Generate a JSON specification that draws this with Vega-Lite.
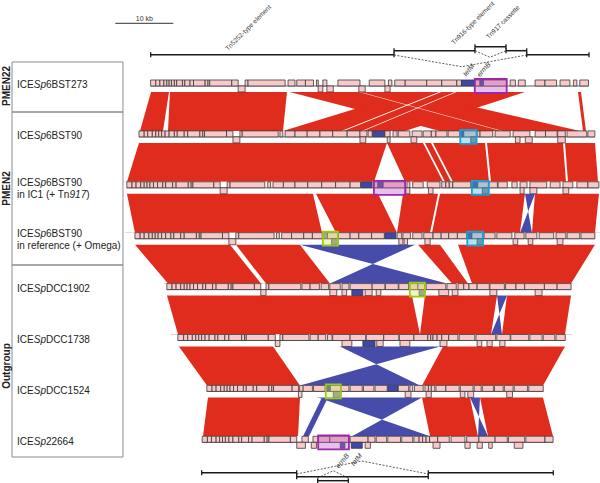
{
"$schema":"https://vega.github.io/schema/vega-lite/v6.json",
"width":600,"height":483,"autosize":{"type":"none"},"padding":0,"background":"white",
"config":{"view":{"stroke":null},"font":"Liberation Sans"},
"datasets":{
"tracks":[{"t":1,"a":0.1,"b":75.6},{"t":2,"a":-1.9,"b":76.7},{"t":3,"a":-4.0,"b":77.4},{"t":4,"a":-2.6,"b":76.7},{"t":5,"a":2.9,"b":72.6},{"t":6,"a":4.8,"b":71.6},{"t":7,"a":9.8,"b":67.8},{"t":8,"a":9.0,"b":69.5}],
"mask":[{"t":1,"a":-4.5,"b":77.6},{"t":2,"a":-4.5,"b":77.6},{"t":3,"a":-4.5,"b":77.6},{"t":4,"a":-4.5,"b":77.6},{"t":5,"a":-4.5,"b":77.6},{"t":6,"a":-4.5,"b":77.6},{"t":7,"a":-4.5,"b":77.6},{"t":8,"a":-4.5,"b":77.6}],
"bands":[
{"id":"b12a","t":1,"a":0.76,"b":3.60,"k":"d"},{"id":"b12a","t":2,"a":-1.72,"b":2.24,"k":"d"},
{"id":"b12b","t":1,"a":3.55,"b":23.83,"k":"d"},{"id":"b12b","t":2,"a":3.10,"b":22.93,"k":"d"},
{"id":"b12c","t":1,"a":16.14,"b":35.78,"k":"d"},{"id":"b12c","t":2,"a":50.00,"b":74.14,"k":"d"},
{"id":"b12d","t":1,"a":51.59,"b":71.05,"k":"d"},{"id":"b12d","t":2,"a":22.93,"b":43.97,"k":"d"},
{"id":"b12e","t":1,"a":73.53,"b":74.05,"k":"d"},{"id":"b12e","t":2,"a":74.66,"b":75.17,"k":"d"},
{"id":"g12a","t":1,"a":55.0,"b":55.4,"k":"g"},{"id":"g12a","t":2,"a":33.0,"b":33.4,"k":"g"},
{"id":"g12b","t":1,"a":57.5,"b":57.8,"k":"g"},{"id":"g12b","t":2,"a":36.5,"b":36.8,"k":"g"},
{"id":"g12c","t":1,"a":28.5,"b":28.8,"k":"g"},{"id":"g12c","t":2,"a":60.5,"b":60.8,"k":"g"},
{"id":"b23a","t":2,"a":-1.26,"b":41.55,"k":"d"},{"id":"b23a","t":3,"a":-3.97,"b":38.62,"k":"d"},
{"id":"b23b","t":2,"a":39.90,"b":76.57,"k":"d"},{"id":"b23b","t":3,"a":43.97,"b":77.24,"k":"d"},
{"id":"g23a","t":2,"a":46.00,"b":46.34,"k":"g"},{"id":"g23a","t":3,"a":50.52,"b":50.86,"k":"g"},
{"id":"g23b","t":2,"a":47.38,"b":47.72,"k":"g"},{"id":"g23b","t":3,"a":51.90,"b":52.24,"k":"g"},
{"id":"g23c","t":2,"a":57.55,"b":57.90,"k":"g"},{"id":"g23c","t":3,"a":58.45,"b":58.79,"k":"g"},
{"id":"g23d","t":2,"a":71.05,"b":71.40,"k":"g"},{"id":"g23d","t":3,"a":71.72,"b":72.07,"k":"g"},
{"id":"b34a","t":3,"a":-4.40,"b":27.62,"k":"d"},{"id":"b34a","t":4,"a":-2.59,"b":29.66,"k":"d"},
{"id":"b34b","t":3,"a":27.55,"b":38.29,"k":"d"},{"id":"b34b","t":4,"a":32.07,"b":42.59,"k":"d"},
{"id":"b34c","t":3,"a":43.95,"b":64.91,"k":"d"},{"id":"b34c","t":4,"a":42.59,"b":63.79,"k":"d"},
{"id":"b34d","t":3,"a":64.28,"b":67.17,"k":"i"},{"id":"b34d","t":4,"a":65.86,"b":63.79,"k":"i"},
{"id":"b34e","t":3,"a":66.53,"b":77.62,"k":"d"},{"id":"b34e","t":4,"a":65.86,"b":76.72,"k":"d"},
{"id":"g34a","t":3,"a":50.09,"b":50.43,"k":"g"},{"id":"g34a","t":4,"a":48.28,"b":48.62,"k":"g"},
{"id":"b45a","t":4,"a":-4.34,"b":12.14,"k":"d"},{"id":"b45a","t":5,"a":3.10,"b":19.14,"k":"d"},
{"id":"b45b","t":4,"a":13.22,"b":24.26,"k":"d"},{"id":"b45b","t":5,"a":20.00,"b":31.03,"k":"d"},
{"id":"b45c","t":4,"a":18.03,"b":50.22,"k":"i"},{"id":"b45c","t":5,"a":51.21,"b":31.03,"k":"i"},
{"id":"b45d","t":4,"a":44.40,"b":48.50,"k":"d"},{"id":"b45d","t":5,"a":52.07,"b":54.83,"k":"d"},
{"id":"b45e","t":4,"a":52.36,"b":78.00,"k":"d"},{"id":"b45e","t":5,"a":55.52,"b":72.59,"k":"d"},
{"id":"b56a","t":5,"a":2.34,"b":44.74,"k":"d"},{"id":"b56a","t":6,"a":4.83,"b":46.55,"k":"d"},
{"id":"b56b","t":5,"a":47.67,"b":60.16,"k":"d"},{"id":"b56b","t":6,"a":46.55,"b":58.79,"k":"d"},
{"id":"b56c","t":5,"a":59.57,"b":62.40,"k":"i"},{"id":"b56c","t":6,"a":60.69,"b":58.79,"k":"i"},
{"id":"b56d","t":5,"a":61.81,"b":72.91,"k":"d"},{"id":"b56d","t":6,"a":60.69,"b":71.55,"k":"d"},
{"id":"b67a","t":6,"a":3.50,"b":19.78,"k":"d"},{"id":"b67a","t":7,"a":9.83,"b":25.86,"k":"d"},
{"id":"b67b","t":6,"a":28.50,"b":57.47,"k":"i"},{"id":"b67b","t":7,"a":46.55,"b":25.86,"k":"i"},
{"id":"b67c","t":6,"a":51.64,"b":72.72,"k":"d"},{"id":"b67c","t":7,"a":46.90,"b":67.76,"k":"d"},
{"id":"b78a","t":7,"a":10.26,"b":25.97,"k":"d"},{"id":"b78a","t":8,"a":9.14,"b":25.52,"k":"d"},
{"id":"b78b","t":7,"a":23.00,"b":50.62,"k":"i"},{"id":"b78b","t":8,"a":48.28,"b":34.83,"k":"i"},
{"id":"b78c","t":7,"a":30.67,"b":31.71,"k":"i"},{"id":"b78c","t":8,"a":26.38,"b":27.41,"k":"i"},
{"id":"b78d","t":7,"a":46.47,"b":54.74,"k":"d"},{"id":"b78d","t":8,"a":48.28,"b":56.55,"k":"d"},
{"id":"b78e","t":7,"a":54.21,"b":57.00,"k":"i"},{"id":"b78e","t":8,"a":58.28,"b":56.55,"k":"i"},
{"id":"b78f","t":7,"a":56.47,"b":67.22,"k":"d"},{"id":"b78f","t":8,"a":58.28,"b":69.48,"k":"d"}
],
"gu":[
{"t":1,"a":0.1,"b":1.0},{"t":1,"a":1.0,"b":1.7},{"t":1,"a":1.7,"b":2.4},{"t":1,"a":2.4,"b":2.9},{"t":1,"a":2.9,"b":3.3},{"t":1,"a":3.3,"b":3.7},{"t":1,"a":3.7,"b":4.2},{"t":1,"a":4.2,"b":4.6},{"t":1,"a":4.6,"b":5.6},{"t":1,"a":5.6,"b":6.0},{"t":1,"a":6.0,"b":6.9},{"t":1,"a":6.9,"b":7.5},{"t":1,"a":7.5,"b":9.5},{"t":1,"a":9.5,"b":10.0},{"t":1,"a":10.0,"b":10.3},{"t":1,"a":10.3,"b":14.1},{"t":1,"a":14.1,"b":15.2},{"t":1,"a":16.4,"b":16.9},{"t":1,"a":16.9,"b":23.3},{"t":1,"a":23.8,"b":25.0},{"t":1,"a":25.3,"b":26.8},{"t":1,"a":26.8,"b":28.2},{"t":1,"a":28.7,"b":29.0},{"t":1,"a":29.8,"b":30.5},{"t":1,"a":32.4,"b":36.2},{"t":1,"a":37.8,"b":40.5},{"t":1,"a":41.1,"b":41.7},{"t":1,"a":42.2,"b":44.0},{"t":1,"a":44.0,"b":47.7},{"t":1,"a":47.7,"b":50.3},{"t":1,"a":50.3,"b":52.9},{"t":1,"a":52.9,"b":53.7},{"t":1,"a":53.7,"b":56.0,"k":"t"},{"t":1,"a":56.0,"b":56.9},{"t":1,"a":56.9,"b":57.5,"k":"e"},{"t":1,"a":57.5,"b":61.5},{"t":1,"a":62.1,"b":63.0},{"t":1,"a":63.5,"b":64.7},{"t":1,"a":66.4,"b":68.1},{"t":1,"a":68.1,"b":70.1},{"t":1,"a":70.7,"b":72.4},{"t":1,"a":73.0,"b":73.6},{"t":1,"a":74.1,"b":75.6},
{"t":2,"a":-1.9,"b":-1.0},{"t":2,"a":-1.0,"b":-0.4},{"t":2,"a":-0.4,"b":0.4},{"t":2,"a":0.4,"b":1.0},{"t":2,"a":1.0,"b":1.5},{"t":2,"a":1.5,"b":2.0},{"t":2,"a":2.0,"b":2.6},{"t":2,"a":2.6,"b":3.3},{"t":2,"a":3.3,"b":4.2},{"t":2,"a":4.2,"b":4.7},{"t":2,"a":4.7,"b":5.9},{"t":2,"a":5.9,"b":6.5},{"t":2,"a":6.5,"b":8.6},{"t":2,"a":8.6,"b":9.1},{"t":2,"a":9.1,"b":9.4},{"t":2,"a":9.4,"b":13.2},{"t":2,"a":13.2,"b":14.3},{"t":2,"a":15.5,"b":15.9},{"t":2,"a":15.9,"b":22.1},{"t":2,"a":22.4,"b":22.9},{"t":2,"a":23.3,"b":25.0},{"t":2,"a":25.0,"b":27.1},{"t":2,"a":27.1,"b":29.3},{"t":2,"a":29.3,"b":31.5},{"t":2,"a":31.5,"b":34.0},{"t":2,"a":34.0,"b":36.2},{"t":2,"a":36.2,"b":37.4},{"t":2,"a":37.6,"b":38.3},{"t":2,"a":38.4,"b":40.5,"k":"t"},{"t":2,"a":40.5,"b":41.4},{"t":2,"a":41.9,"b":42.6},{"t":2,"a":42.8,"b":44.8},{"t":2,"a":45.2,"b":46.9},{"t":2,"a":47.1,"b":48.5},{"t":2,"a":48.5,"b":49.3},{"t":2,"a":49.3,"b":51.2},{"t":2,"a":51.4,"b":53.4},{"t":2,"a":53.5,"b":54.1,"k":"t"},{"t":2,"a":54.1,"b":56.3},{"t":2,"a":56.4,"b":56.9},{"t":2,"a":56.9,"b":59.1},{"t":2,"a":59.5,"b":62.1},{"t":2,"a":62.6,"b":65.5},{"t":2,"a":66.4,"b":68.2},{"t":2,"a":68.2,"b":70.2},{"t":2,"a":70.3,"b":71.6},{"t":2,"a":71.9,"b":75.3},{"t":2,"a":75.5,"b":76.7},
{"t":3,"a":-4.0,"b":-3.1},{"t":3,"a":-3.1,"b":-2.4},{"t":3,"a":-2.4,"b":-1.6},{"t":3,"a":-1.6,"b":-1.0},{"t":3,"a":-1.0,"b":-0.5},{"t":3,"a":-0.5,"b":0.0},{"t":3,"a":0.0,"b":0.6},{"t":3,"a":0.6,"b":1.3},{"t":3,"a":1.3,"b":2.2},{"t":3,"a":2.2,"b":2.7},{"t":3,"a":2.7,"b":3.9},{"t":3,"a":3.9,"b":4.5},{"t":3,"a":4.5,"b":6.6},{"t":3,"a":6.6,"b":7.1},{"t":3,"a":7.1,"b":7.4},{"t":3,"a":7.4,"b":11.0},{"t":3,"a":11.0,"b":12.1},{"t":3,"a":13.3,"b":13.8},{"t":3,"a":13.8,"b":19.8},{"t":3,"a":20.3,"b":20.8},{"t":3,"a":21.2,"b":23.0},{"t":3,"a":23.0,"b":25.0},{"t":3,"a":25.0,"b":27.2},{"t":3,"a":27.2,"b":29.6},{"t":3,"a":29.6,"b":32.0},{"t":3,"a":32.0,"b":34.5},{"t":3,"a":34.5,"b":36.3},{"t":3,"a":36.4,"b":38.3,"k":"t"},{"t":3,"a":38.6,"b":39.3},{"t":3,"a":39.3,"b":40.2,"k":"e"},{"t":3,"a":40.2,"b":44.0},{"t":3,"a":44.3,"b":44.8},{"t":3,"a":45.3,"b":47.1},{"t":3,"a":47.8,"b":50.0},{"t":3,"a":50.3,"b":51.0},{"t":3,"a":51.0,"b":51.6},{"t":3,"a":51.6,"b":52.2},{"t":3,"a":52.2,"b":55.3},{"t":3,"a":55.6,"b":56.5,"k":"t"},{"t":3,"a":56.5,"b":58.4},{"t":3,"a":58.4,"b":59.9},{"t":3,"a":60.0,"b":61.6},{"t":3,"a":62.4,"b":63.3},{"t":3,"a":63.8,"b":65.0},{"t":3,"a":65.5,"b":68.4},{"t":3,"a":69.0,"b":70.7},{"t":3,"a":71.2,"b":72.9},{"t":3,"a":73.6,"b":75.5},{"t":3,"a":75.5,"b":77.4},
{"t":4,"a":-2.6,"b":-1.7},{"t":4,"a":-1.7,"b":-1.0},{"t":4,"a":-1.0,"b":-0.2},{"t":4,"a":-0.2,"b":0.4},{"t":4,"a":0.4,"b":0.9},{"t":4,"a":0.9,"b":1.4},{"t":4,"a":1.4,"b":2.0},{"t":4,"a":2.0,"b":2.7},{"t":4,"a":2.7,"b":3.6},{"t":4,"a":3.6,"b":4.1},{"t":4,"a":4.1,"b":5.3},{"t":4,"a":5.3,"b":5.9},{"t":4,"a":5.9,"b":8.0},{"t":4,"a":8.0,"b":8.5},{"t":4,"a":8.5,"b":8.8},{"t":4,"a":8.8,"b":12.5},{"t":4,"a":12.5,"b":13.6},{"t":4,"a":14.8,"b":15.3},{"t":4,"a":15.3,"b":21.4},{"t":4,"a":21.8,"b":22.3},{"t":4,"a":22.7,"b":24.4},{"t":4,"a":24.4,"b":26.5},{"t":4,"a":26.5,"b":28.0},{"t":4,"a":28.0,"b":29.7},{"t":4,"a":29.8,"b":30.6,"k":"g"},{"t":4,"a":30.6,"b":32.4},{"t":4,"a":32.5,"b":34.5},{"t":4,"a":34.5,"b":36.0},{"t":4,"a":36.0,"b":38.2},{"t":4,"a":38.2,"b":40.4},{"t":4,"a":40.5,"b":42.4,"k":"t"},{"t":4,"a":42.6,"b":43.4},{"t":4,"a":43.6,"b":44.9},{"t":4,"a":45.3,"b":46.9},{"t":4,"a":47.2,"b":48.8},{"t":4,"a":48.8,"b":50.2},{"t":4,"a":50.2,"b":51.5},{"t":4,"a":51.5,"b":53.0},{"t":4,"a":53.0,"b":54.6},{"t":4,"a":54.7,"b":55.5,"k":"t"},{"t":4,"a":55.5,"b":57.4},{"t":4,"a":57.6,"b":59.5},{"t":4,"a":59.8,"b":62.4},{"t":4,"a":62.9,"b":64.5},{"t":4,"a":64.8,"b":66.7},{"t":4,"a":67.1,"b":69.6},{"t":4,"a":70.0,"b":71.7},{"t":4,"a":71.9,"b":74.1},{"t":4,"a":74.3,"b":76.7},
{"t":5,"a":2.9,"b":3.8},{"t":5,"a":3.8,"b":4.5},{"t":5,"a":4.5,"b":5.3},{"t":5,"a":5.3,"b":5.9},{"t":5,"a":5.9,"b":6.4},{"t":5,"a":6.4,"b":6.9},{"t":5,"a":6.9,"b":7.5},{"t":5,"a":7.5,"b":8.2},{"t":5,"a":8.2,"b":9.1},{"t":5,"a":9.1,"b":9.6},{"t":5,"a":9.6,"b":10.8},{"t":5,"a":10.8,"b":11.4},{"t":5,"a":11.4,"b":13.5},{"t":5,"a":13.5,"b":14.0},{"t":5,"a":14.0,"b":14.3},{"t":5,"a":14.3,"b":18.0},{"t":5,"a":18.0,"b":19.1},{"t":5,"a":20.0,"b":20.5},{"t":5,"a":20.5,"b":26.0},{"t":5,"a":26.2,"b":27.6},{"t":5,"a":27.6,"b":29.2},{"t":5,"a":29.5,"b":30.8},{"t":5,"a":31.0,"b":32.8},{"t":5,"a":33.1,"b":34.3},{"t":5,"a":34.5,"b":38.3},{"t":5,"a":38.3,"b":40.5},{"t":5,"a":40.6,"b":42.8},{"t":5,"a":42.9,"b":44.6},{"t":5,"a":44.8,"b":46.2},{"t":5,"a":46.2,"b":47.4},{"t":5,"a":47.6,"b":51.0},{"t":5,"a":51.2,"b":52.8},{"t":5,"a":53.1,"b":54.1},{"t":5,"a":54.1,"b":55.0},{"t":5,"a":55.0,"b":56.4},{"t":5,"a":56.4,"b":58.5},{"t":5,"a":58.6,"b":61.1},{"t":5,"a":61.3,"b":63.1},{"t":5,"a":63.1,"b":64.6},{"t":5,"a":64.6,"b":68.0},{"t":5,"a":68.0,"b":70.2},{"t":5,"a":70.2,"b":72.6},
{"t":6,"a":4.8,"b":5.8},{"t":6,"a":5.8,"b":6.5},{"t":6,"a":6.5,"b":7.3},{"t":6,"a":7.3,"b":7.9},{"t":6,"a":7.9,"b":8.4},{"t":6,"a":8.4,"b":8.9},{"t":6,"a":8.9,"b":9.5},{"t":6,"a":9.5,"b":10.2},{"t":6,"a":10.2,"b":11.2},{"t":6,"a":11.2,"b":11.7},{"t":6,"a":11.7,"b":12.9},{"t":6,"a":12.9,"b":13.6},{"t":6,"a":13.6,"b":15.8},{"t":6,"a":15.8,"b":16.3},{"t":6,"a":16.3,"b":16.6},{"t":6,"a":16.6,"b":20.4},{"t":6,"a":20.4,"b":21.6},{"t":6,"a":22.4,"b":22.9},{"t":6,"a":22.9,"b":27.4},{"t":6,"a":27.6,"b":29.0},{"t":6,"a":29.0,"b":30.3},{"t":6,"a":30.6,"b":31.4},{"t":6,"a":31.5,"b":34.5},{"t":6,"a":34.5,"b":37.2},{"t":6,"a":37.3,"b":40.3},{"t":6,"a":40.3,"b":42.9},{"t":6,"a":43.0,"b":45.5},{"t":6,"a":45.5,"b":47.9},{"t":6,"a":47.9,"b":48.4},{"t":6,"a":48.4,"b":48.8},{"t":6,"a":48.8,"b":49.5},{"t":6,"a":49.5,"b":50.3},{"t":6,"a":50.3,"b":51.5},{"t":6,"a":51.5,"b":53.1},{"t":6,"a":53.3,"b":56.0},{"t":6,"a":56.2,"b":59.6},{"t":6,"a":59.8,"b":62.1},{"t":6,"a":62.2,"b":65.3},{"t":6,"a":65.5,"b":67.6},{"t":6,"a":67.8,"b":69.8},{"t":6,"a":70.0,"b":71.6},
{"t":7,"a":9.8,"b":10.7},{"t":7,"a":10.7,"b":11.4},{"t":7,"a":11.4,"b":12.2},{"t":7,"a":12.2,"b":12.8},{"t":7,"a":12.8,"b":13.3},{"t":7,"a":13.3,"b":13.8},{"t":7,"a":13.8,"b":14.4},{"t":7,"a":14.4,"b":15.1},{"t":7,"a":15.1,"b":16.1},{"t":7,"a":16.1,"b":16.6},{"t":7,"a":16.6,"b":17.8},{"t":7,"a":17.8,"b":18.4},{"t":7,"a":18.4,"b":20.5},{"t":7,"a":20.5,"b":21.0},{"t":7,"a":21.0,"b":21.3},{"t":7,"a":21.3,"b":24.5},{"t":7,"a":24.5,"b":25.6},{"t":7,"a":25.8,"b":26.4},{"t":7,"a":26.4,"b":28.0},{"t":7,"a":28.2,"b":30.2},{"t":7,"a":30.3,"b":31.1,"k":"t"},{"t":7,"a":31.1,"b":32.9},{"t":7,"a":32.9,"b":34.3},{"t":7,"a":34.5,"b":36.6},{"t":7,"a":36.8,"b":38.6},{"t":7,"a":38.8,"b":40.9},{"t":7,"a":41.0,"b":42.8,"k":"t"},{"t":7,"a":42.8,"b":44.6},{"t":7,"a":44.8,"b":45.3},{"t":7,"a":45.6,"b":47.1},{"t":7,"a":47.4,"b":48.0},{"t":7,"a":48.0,"b":48.5},{"t":7,"a":48.5,"b":49.1},{"t":7,"a":49.3,"b":51.0},{"t":7,"a":51.0,"b":53.3},{"t":7,"a":53.5,"b":55.7},{"t":7,"a":55.9,"b":57.1},{"t":7,"a":57.3,"b":59.2},{"t":7,"a":59.4,"b":60.9},{"t":7,"a":61.1,"b":62.6},{"t":7,"a":62.8,"b":65.1},{"t":7,"a":65.3,"b":67.8},
{"t":8,"a":9.0,"b":9.9},{"t":8,"a":9.9,"b":10.6},{"t":8,"a":10.6,"b":11.4},{"t":8,"a":11.4,"b":12.0},{"t":8,"a":12.0,"b":12.5},{"t":8,"a":12.5,"b":13.0},{"t":8,"a":13.0,"b":13.6},{"t":8,"a":13.6,"b":14.3},{"t":8,"a":14.3,"b":15.3},{"t":8,"a":15.3,"b":15.8},{"t":8,"a":15.8,"b":17.0},{"t":8,"a":17.0,"b":17.6},{"t":8,"a":17.6,"b":19.7},{"t":8,"a":19.7,"b":20.2},{"t":8,"a":20.2,"b":20.5},{"t":8,"a":20.5,"b":24.2},{"t":8,"a":24.2,"b":25.3},{"t":8,"a":26.2,"b":27.3},{"t":8,"a":28.1,"b":29.0},{"t":8,"a":29.0,"b":31.0},{"t":8,"a":31.0,"b":34.3},{"t":8,"a":34.5,"b":37.6},{"t":8,"a":37.6,"b":38.8},{"t":8,"a":39.0,"b":40.8},{"t":8,"a":41.0,"b":43.2},{"t":8,"a":43.4,"b":45.3},{"t":8,"a":45.5,"b":46.4},{"t":8,"a":46.4,"b":47.0},{"t":8,"a":47.0,"b":47.6},{"t":8,"a":47.6,"b":48.2},{"t":8,"a":48.2,"b":49.6},{"t":8,"a":49.6,"b":51.6},{"t":8,"a":51.9,"b":54.3},{"t":8,"a":54.6,"b":56.7},{"t":8,"a":56.7,"b":59.5},{"t":8,"a":59.5,"b":61.6},{"t":8,"a":61.8,"b":64.6},{"t":8,"a":64.8,"b":68.1},{"t":8,"a":68.1,"b":69.5}
],
"gl":[
{"t":1,"a":15.2,"b":16.4},{"t":1,"a":29.0,"b":29.8},{"t":1,"a":30.5,"b":31.6},{"t":1,"a":36.0,"b":37.1},{"t":1,"a":40.5,"b":41.4},
{"t":2,"a":14.3,"b":15.5},{"t":2,"a":36.2,"b":37.2},{"t":2,"a":40.9,"b":41.4},{"t":2,"a":45.0,"b":46.0},{"t":2,"a":55.3,"b":56.3,"k":"g"},{"t":2,"a":63.0,"b":63.8},{"t":2,"a":64.7,"b":65.9},{"t":2,"a":70.3,"b":71.6},
{"t":3,"a":12.1,"b":13.3},{"t":3,"a":44.1,"b":44.8},{"t":3,"a":48.0,"b":48.8},{"t":3,"a":57.3,"b":58.4,"k":"g"},{"t":3,"a":63.8,"b":64.5},{"t":3,"a":65.5,"b":66.7},{"t":3,"a":71.2,"b":72.2},
{"t":4,"a":13.6,"b":14.8},{"t":4,"a":31.3,"b":32.4,"k":"g"},{"t":4,"a":42.9,"b":43.6},{"t":4,"a":43.8,"b":44.4},{"t":4,"a":47.4,"b":48.3},{"t":4,"a":56.4,"b":57.4,"k":"g"},{"t":4,"a":62.6,"b":63.4},{"t":4,"a":65.2,"b":66.0},{"t":4,"a":70.2,"b":71.2},
{"t":5,"a":19.1,"b":20.0},{"t":5,"a":31.0,"b":32.2},{"t":5,"a":33.1,"b":33.9},{"t":5,"a":34.8,"b":36.7,"k":"t"},{"t":5,"a":37.1,"b":38.3},{"t":5,"a":39.0,"b":39.8},{"t":5,"a":46.4,"b":47.4,"k":"g"},{"t":5,"a":49.8,"b":51.5},{"t":5,"a":52.1,"b":53.1},{"t":5,"a":58.6,"b":59.8},{"t":5,"a":66.4,"b":67.6},
{"t":6,"a":21.6,"b":22.4},{"t":6,"a":33.1,"b":34.8},{"t":6,"a":36.7,"b":38.8,"k":"t"},{"t":6,"a":39.1,"b":40.2},{"t":6,"a":43.1,"b":44.8},{"t":6,"a":50.0,"b":51.2},{"t":6,"a":56.4,"b":57.2},{"t":6,"a":58.1,"b":59.0},{"t":6,"a":60.3,"b":61.2},
{"t":7,"a":25.6,"b":26.2},{"t":7,"a":31.6,"b":32.9,"k":"g"},{"t":7,"a":44.0,"b":45.0},{"t":7,"a":47.6,"b":48.5},{"t":7,"a":53.5,"b":54.3},{"t":7,"a":54.8,"b":55.8},{"t":7,"a":61.5,"b":62.5},
{"t":8,"a":25.3,"b":26.8},{"t":8,"a":27.8,"b":28.7},{"t":8,"a":32.8,"b":33.6,"k":"e"},{"t":8,"a":34.7,"b":36.6,"k":"t"},{"t":8,"a":37.1,"b":38.0},{"t":8,"a":48.8,"b":50.0},{"t":8,"a":54.3,"b":55.2},{"t":8,"a":56.4,"b":57.3},{"t":8,"a":58.4,"b":59.0},{"t":8,"a":62.8,"b":64.3}
],
"boxes":[{"t":1,"a":56.0,"b":61.5,"k":"P"},{"t":2,"a":53.5,"b":56.3,"k":"C"},{"t":3,"a":38.6,"b":44.0,"k":"P"},{"t":3,"a":55.5,"b":58.4,"k":"C"},{"t":4,"a":29.8,"b":32.4,"k":"G"},{"t":4,"a":54.7,"b":57.4,"k":"C"},{"t":5,"a":44.8,"b":47.4,"k":"G"},{"t":7,"a":30.3,"b":32.9,"k":"G"},{"t":8,"a":29.0,"b":34.3,"k":"P"}],
"segs":[{"a":0.12,"b":42.07,"t":0.5029},{"a":42.07,"b":56.03,"t":0.4244},{"a":56.03,"b":61.38,"t":0.3458},{"a":61.38,"b":64.95,"t":0.4244},{"a":64.95,"b":75.69,"t":0.5029},{"a":8.91,"b":25.29,"t":8.7151},{"a":25.29,"b":47.98,"t":8.7937},{"a":28.91,"b":34.19,"t":8.8723},{"a":47.98,"b":69.53,"t":8.7151}],
"dots":[{"id":"u1","s":1,"a":42.07,"t":0.5088},{"id":"u1","s":2,"a":53.74,"t":0.7387},{"id":"u1","s":3,"a":64.95,"t":0.5088},{"id":"u2","s":1,"a":56.03,"t":0.4244},{"id":"u2","s":2,"a":58.62,"t":0.554},{"id":"u2","s":3,"a":61.38,"t":0.4244},{"id":"d1","s":1,"a":25.29,"t":8.7407},{"id":"d1","s":2,"a":36.5,"t":8.4853},{"id":"d1","s":3,"a":47.98,"t":8.7407},{"id":"d2","s":1,"a":28.91,"t":8.8193},{"id":"d2","s":2,"a":31.6,"t":8.6758},{"id":"d2","s":3,"a":34.19,"t":8.8193}],
"alab":[{"a":13.45,"t":0.43,"txt":"Tn5252-type element","g":"L"},{"a":52.4,"t":0.31,"txt":"Tn916-type element","g":"L"},{"a":58.4,"t":0.2,"txt":"Tn917 cassette","g":"L"},{"a":54.48,"t":0.9352,"txt":"tetM","g":"S"},{"a":56.9,"t":0.947,"txt":"ermB","g":"S"},{"a":33.62,"t":8.3084,"txt":"ermB","g":"B"},{"a":35.86,"t":8.3084,"txt":"tetM","g":"B"}],
"groups":[{"name":"PMEN22","a":-23.79,"b":-4.66,"lx":-24.74,"from":0.6464,"to":1.6287,"mid":1.1179},{"name":"PMEN2","a":-23.79,"b":-4.66,"lx":-24.74,"from":1.6287,"to":4.6346,"mid":3.1316},{"name":"Outgroup","a":-23.79,"b":-4.66,"lx":-24.74,"from":4.6346,"to":8.4067,"mid":6.6189}],
"strains":[{"t":1,"a":-22.93,"n":1,"r":"6BST273"},{"t":2,"a":-22.93,"n":1,"r":"6BST90"},{"t":3,"a":-22.93,"n":2,"r":"6BST90","l2":"in IC1 (+ Tn"},{"t":4,"a":-22.93,"n":2,"r":"6BST90","l2":"in reference (+ Omega)"},{"t":5,"a":-22.93,"n":1,"r":"DCC1902"},{"t":6,"a":-22.93,"n":1,"r":"DCC1738"},{"t":7,"a":-22.93,"n":1,"r":"DCC1524"},{"t":8,"a":-22.93,"n":1,"r":"22664"}],
"sb":[{"a":-5.98,"b":4.02,"t":-0.1139,"m":-0.98,"tt":-0.1984}]
},
"encoding":{
"x":{"field":"a","type":"quantitative","scale":{"domain":[-25.862,77.586],"nice":false,"zero":false},"axis":null},
"y":{"field":"t","type":"quantitative","scale":{"domain":[-0.5717,8.9175],"nice":false,"zero":false,"reverse":true},"axis":null}
},
"layer":[
{"data":{"name":"bands"},"transform":[{"filter":"datum.k !== 'g'"}],"mark":{"type":"area","orient":"horizontal","clip":true},
 "encoding":{"x":{"field":"a","type":"quantitative","stack":null,"scale":{"domain":[-25.862,77.586],"nice":false,"zero":false},"axis":null},"x2":{"field":"b"},"detail":{"field":"id"},"color":{"field":"k","type":"nominal","scale":{"domain":["d","i"],"range":["#e02c1c","#474cab"]},"legend":null}}},
{"data":{"name":"bands"},"transform":[{"filter":"datum.k === 'g'"}],"mark":{"type":"area","orient":"horizontal","color":"white","clip":true},
 "encoding":{"x":{"field":"a","type":"quantitative","stack":null,"scale":{"domain":[-25.862,77.586],"nice":false,"zero":false},"axis":null},"x2":{"field":"b"},"detail":{"field":"id"}}},
{"data":{"name":"mask"},"mark":{"type":"rect","fill":"white","y2Offset":12},"encoding":{"x2":{"field":"b"},"y2":{"field":"t"}}},
{"data":{"name":"tracks"},"mark":{"type":"rule","stroke":"#333","strokeWidth":0.8,"yOffset":6},"encoding":{"x2":{"field":"b"}}},
{"data":{"name":"gu"},"mark":{"type":"rect","stroke":"#3a3a3a","strokeWidth":0.8,"y2Offset":6},
 "encoding":{"x2":{"field":"b"},"y2":{"field":"t"},"fill":{"condition":[{"test":"datum.k === 't' || datum.k === 'e'","value":"#3f47a8"},{"test":"datum.k === 'g'","value":"#8a8a96"}],"value":"#f9c8c9"}}},
{"data":{"name":"gl"},"mark":{"type":"rect","stroke":"#3a3a3a","strokeWidth":0.8,"yOffset":6,"y2Offset":12},
 "encoding":{"x2":{"field":"b"},"y2":{"field":"t"},"fill":{"condition":[{"test":"datum.k === 't' || datum.k === 'e'","value":"#3f47a8"},{"test":"datum.k === 'g'","value":"#8a8a96"}],"value":"#f9c8c9"}}},
{"data":{"name":"boxes"},"mark":{"type":"rect","yOffset":-1,"y2Offset":13,"fillOpacity":0.38,"strokeWidth":1.8},
 "encoding":{"x2":{"field":"b"},"y2":{"field":"t"},
  "fill":{"condition":[{"test":"datum.k === 'P'","value":"#c25bc9"},{"test":"datum.k === 'C'","value":"#3fb6e3"}],"value":"#cde86a"},
  "stroke":{"condition":[{"test":"datum.k === 'P'","value":"#9a2aa8"},{"test":"datum.k === 'C'","value":"#1c9fd3"}],"value":"#9cc915"}}},
{"data":{"name":"segs"},"mark":{"type":"rule","stroke":"#1a1a1a","strokeWidth":1.5},"encoding":{"x2":{"field":"b"}}},
{"data":{"name":"segs"},"mark":{"type":"rule","stroke":"#1a1a1a","strokeWidth":1.3,"yOffset":-2.5,"y2Offset":2.5},"encoding":{"y2":{"field":"t"}}},
{"data":{"name":"segs"},"mark":{"type":"rule","stroke":"#1a1a1a","strokeWidth":1.3,"yOffset":-2.5,"y2Offset":2.5},
 "encoding":{"x":{"field":"b","type":"quantitative","scale":{"domain":[-25.862,77.586],"nice":false,"zero":false},"axis":null},"y2":{"field":"t"}}},
{"data":{"name":"dots"},"mark":{"type":"line","color":"#333","strokeWidth":0.8,"strokeDash":[2,1.5]},"encoding":{"detail":{"field":"id"},"order":{"field":"s","type":"quantitative"}}},
{"data":{"name":"alab"},"transform":[{"filter":"datum.g === 'L'"}],"mark":{"type":"text","angle":-45,"align":"left","baseline":"alphabetic","fontSize":6.5,"color":"#333"},"encoding":{"text":{"field":"txt"}}},
{"data":{"name":"alab"},"transform":[{"filter":"datum.g === 'S'"}],"mark":{"type":"text","angle":-49,"align":"left","baseline":"alphabetic","fontSize":7,"fontStyle":"italic","color":"#333"},"encoding":{"text":{"field":"txt"}}},
{"data":{"name":"alab"},"transform":[{"filter":"datum.g === 'B'"}],"mark":{"type":"text","angle":-50,"align":"right","baseline":"top","fontSize":7,"fontStyle":"italic","color":"#333"},"encoding":{"text":{"field":"txt"}}},
{"data":{"name":"sb"},"mark":{"type":"rule","stroke":"#333","strokeWidth":1},"encoding":{"x2":{"field":"b"}}},
{"data":{"name":"sb"},"mark":{"type":"text","fontSize":7,"color":"#333","align":"center","baseline":"middle"},
 "encoding":{"x":{"field":"m","type":"quantitative","scale":{"domain":[-25.862,77.586],"nice":false,"zero":false},"axis":null},"y":{"field":"tt","type":"quantitative","scale":{"domain":[-0.5717,8.9175],"nice":false,"zero":false,"reverse":true},"axis":null},"text":{"value":"10 kb"}}},
{"data":{"name":"groups"},"mark":{"type":"rect","fill":"white","fillOpacity":0,"stroke":"#8c8c8c","strokeWidth":1},
 "encoding":{"x2":{"field":"b"},"y":{"field":"from","type":"quantitative","scale":{"domain":[-0.5717,8.9175],"nice":false,"zero":false,"reverse":true},"axis":null},"y2":{"field":"to"}}},
{"data":{"name":"groups"},"mark":{"type":"text","angle":270,"fontSize":10,"fontWeight":"bold","color":"#222","align":"center","baseline":"middle"},
 "encoding":{"x":{"field":"lx","type":"quantitative","scale":{"domain":[-25.862,77.586],"nice":false,"zero":false},"axis":null},"y":{"field":"mid","type":"quantitative","scale":{"domain":[-0.5717,8.9175],"nice":false,"zero":false,"reverse":true},"axis":null},"text":{"field":"name"}}},
{"data":{"name":"strains"},"transform":[{"filter":"datum.n === 1"}],"mark":{"type":"text","fontSize":10,"color":"#222","align":"left","baseline":"middle","dy":5.5},"encoding":{"text":{"value":"ICE"}}},
{"data":{"name":"strains"},"transform":[{"filter":"datum.n === 1"}],"mark":{"type":"text","fontSize":10,"fontStyle":"italic","color":"#222","align":"left","baseline":"middle","dy":5.5,"dx":16.7},"encoding":{"text":{"value":"Sp"}}},
{"data":{"name":"strains"},"transform":[{"filter":"datum.n === 1"}],"mark":{"type":"text","fontSize":10,"color":"#222","align":"left","baseline":"middle","dy":5.5,"dx":28.9},"encoding":{"text":{"field":"r"}}},
{"data":{"name":"strains"},"transform":[{"filter":"datum.n === 2"}],"mark":{"type":"text","fontSize":10,"color":"#222","align":"left","baseline":"middle","dy":1},"encoding":{"text":{"value":"ICE"}}},
{"data":{"name":"strains"},"transform":[{"filter":"datum.n === 2"}],"mark":{"type":"text","fontSize":10,"fontStyle":"italic","color":"#222","align":"left","baseline":"middle","dy":1,"dx":16.7},"encoding":{"text":{"value":"Sp"}}},
{"data":{"name":"strains"},"transform":[{"filter":"datum.n === 2"}],"mark":{"type":"text","fontSize":10,"color":"#222","align":"left","baseline":"middle","dy":1,"dx":28.9},"encoding":{"text":{"field":"r"}}},
{"data":{"name":"strains"},"transform":[{"filter":"datum.n === 2"}],"mark":{"type":"text","fontSize":10,"color":"#222","align":"left","baseline":"middle","dy":13.2},"encoding":{"text":{"field":"l2"}}},
{"data":{"name":"strains"},"transform":[{"filter":"datum.t === 3"}],"mark":{"type":"text","fontSize":10,"fontStyle":"italic","color":"#222","align":"left","baseline":"middle","dy":13.2,"dx":52.5},"encoding":{"text":{"value":"917"}}},
{"data":{"name":"strains"},"transform":[{"filter":"datum.t === 3"}],"mark":{"type":"text","fontSize":10,"color":"#222","align":"left","baseline":"middle","dy":13.2,"dx":69.2},"encoding":{"text":{"value":")"}}}
]
}
